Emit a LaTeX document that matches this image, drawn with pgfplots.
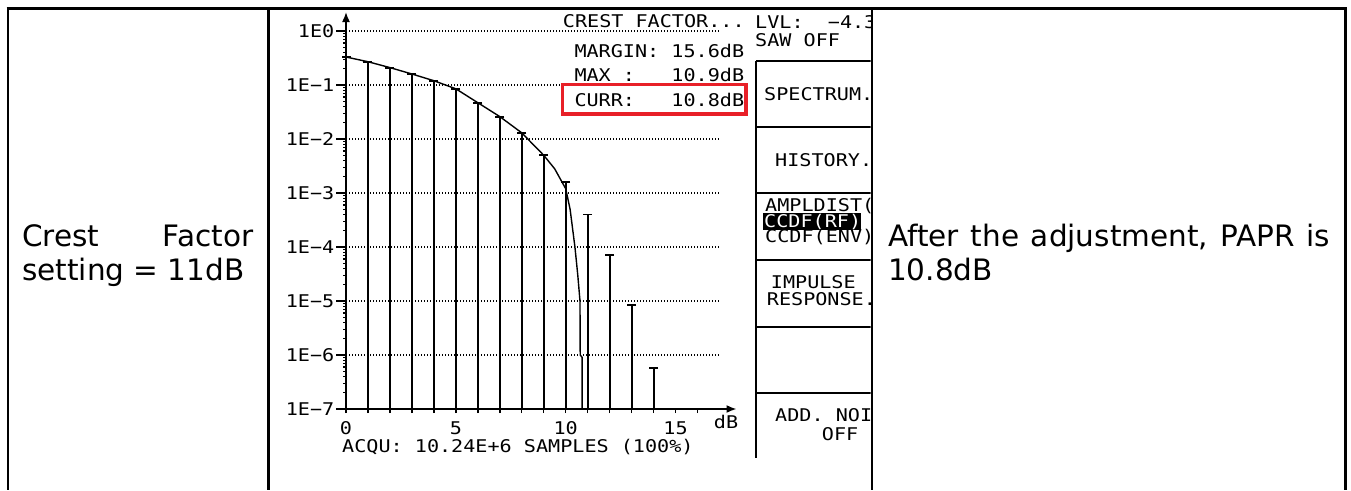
\documentclass[border=0pt]{standalone}
\usepackage{fontspec}
\setmainfont{DejaVu Sans}
\newfontfamily\lcd[FakeStretch=1.15]{DejaVu Sans Mono}
\usepackage{pgfplots}
\usepackage{pgfplotstable}
\pgfplotsset{compat=1.18}
\usetikzlibrary{arrows.meta}
\definecolor{boxred}{RGB}{232,32,40}

\pgfplotstableread{
x y
0 0.33
1 0.27
2 0.21
3 0.16
4 0.12
5 0.085
6 0.047
7 0.026
8 0.013
9 0.0051
10 0.0016
11 0.0004
12 0.00007
13 0.0000085
14 0.00000057
}\bars

\pgfplotstableread{
x y
0 0.33
1 0.27
2 0.21
3 0.16
4 0.12
5 0.085
6 0.047
7 0.026
8 0.013
9 0.0050
9.5 0.0028
10 0.0012
10.2 0.0005
10.42 0.0001
10.55 0.00003
10.65 0.00001
10.66 0.000001
10.75 0.0000009
10.75 0.0000001
}\curve

\newcommand{\lcdf}{\lcd\fontsize{17.5}{21}\selectfont}
\newcommand{\cellf}{\fontsize{29.5}{34}\selectfont}

\begin{document}
\begin{tikzpicture}[x=1pt,y=1pt]
\useasboundingbox (0,0) rectangle (1351,-490);
% table frame
\draw[line width=2.6pt] (6.7,-8.7) -- (1347,-8.7);
\draw[line width=2.6pt] (8,-8.7) -- (8,-490);
\draw[line width=2.6pt] (268.7,-8.7) -- (268.7,-490);
\draw[line width=2.6pt] (872,-8.7) -- (872,-490);
\draw[line width=2.6pt] (1345.7,-8.7) -- (1345.7,-490);

% cell texts
\node[anchor=base west,inner sep=0pt,font=\cellf] at (22,-246) {\makebox[231pt][s]{Crest Factor}};
\node[anchor=base west,inner sep=0pt,font=\cellf] at (22,-280) {setting = 11dB};
\node[anchor=base west,inner sep=0pt,font=\cellf] at (888,-246) {\makebox[442pt][s]{After the adjustment, PAPR is}};
\node[anchor=base west,inner sep=0pt,font=\cellf] at (888,-280) {10.8dB};

\begin{axis}[
  at={(346pt,-409pt)}, anchor=south west,
  scale only axis, width=373.5pt, height=378pt,
  xmin=0, xmax=17, ymin=1e-7, ymax=1,
  ymode=log, log origin y=infty,
  axis lines=left,
  axis line style={line width=1.6pt},
  x axis line style={-{Latex[length=10pt,width=8pt]}, shorten >=-17pt},
  y axis line style={-{Latex[length=10pt,width=8pt]}, shorten >=-19pt},
  tick align=outside,
  major tick length=10pt,
  xtick style={/pgfplots/major tick length=4pt, line width=1.4pt, black},
  ytick style={line width=1.4pt, black},
  xtick={0,...,16},
  xticklabels={0,,,,,5,,,,,10,,,,,15,},
  ytick={1e-7,1e-6,1e-5,1e-4,1e-3,1e-2,1e-1,1},
  yticklabels={1E−7,1E−6,1E−5,1E−4,1E−3,1E−2,1E−1,1E0},
  minor tick num=0,
  tick label style={font=\lcdf},
  yticklabel style={inner sep=1.5pt},
  xticklabel style={anchor=base, inner sep=0pt, yshift=-15pt},
  ymajorgrids,
  major grid style={line width=1.1pt, dash pattern=on 1pt off 2pt, black},
  clip=false,
]
\addplot[ycomb, black, line width=2pt, mark=-, mark size=4.5pt, mark options={line width=1.8pt}] table {\bars};
\addplot[black, line width=1.4pt, no marks] table {\curve};
\end{axis}

\begin{scope}
\clip (270,-10) rectangle (870.7,-490);
\node[anchor=base,inner sep=0pt,font=\lcdf] at (726,-428) {dB};
\node[anchor=base west,inner sep=0pt,font=\lcdf] at (342,-452.7) {ACQU:~10.24E+6~SAMPLES~(100\%)};
\node[anchor=base west,inner sep=0pt,font=\lcdf] at (562.7,-27) {CREST~FACTOR...};
\node[anchor=base west,inner sep=0pt,font=\lcdf] at (574.3,-57) {MARGIN:~15.6dB};
\node[anchor=base west,inner sep=0pt,font=\lcdf] at (574.3,-81.7) {MAX~:~~~10.9dB};
\draw[boxred, line width=3.5pt, fill=white] (562.5,-84.5) rectangle (746,-114);
\node[anchor=base west,inner sep=0pt,font=\lcdf] at (574.3,-106.7) {CURR:~~~10.8dB};
\node[anchor=base west,inner sep=0pt,font=\lcdf] at (755,-28) {LVL:~~−4.3};
\node[anchor=base west,inner sep=0pt,font=\lcdf] at (755,-46.7) {SAW~OFF};
% softkey panel
\draw[line width=1.4pt] (756,-61) -- (756,-458);
\foreach \yy in {61,127,193,260,327,393} {\draw[line width=1.4pt] (756,-\yy) -- (872,-\yy);}
\node[anchor=base west,inner sep=0pt,font=\lcdf] at (764,-100) {SPECTRUM.};
\node[anchor=base west,inner sep=0pt,font=\lcdf] at (775,-166.7) {HISTORY.};
\node[anchor=base west,inner sep=0pt,font=\lcdf] at (765,-211.7) {AMPLDIST(};
\fill (762.7,-213.3) rectangle (860.7,-229.5);
\node[anchor=base west,inner sep=0pt,font=\lcdf,text=white] at (764,-227) {CCDF(RF)};
\node[anchor=base west,inner sep=0pt,font=\lcdf] at (765,-242.7) {CCDF(ENV)};
\node[anchor=base west,inner sep=0pt,font=\lcdf] at (770.7,-288.3) {IMPULSE};
\node[anchor=base west,inner sep=0pt,font=\lcdf] at (766.7,-305) {RESPONSE.};
\node[anchor=base west,inner sep=0pt,font=\lcdf] at (775,-421.7) {ADD.~NOISE};
\node[anchor=base west,inner sep=0pt,font=\lcdf] at (821.7,-440) {OFF};
\end{scope}
\end{tikzpicture}
\end{document}
